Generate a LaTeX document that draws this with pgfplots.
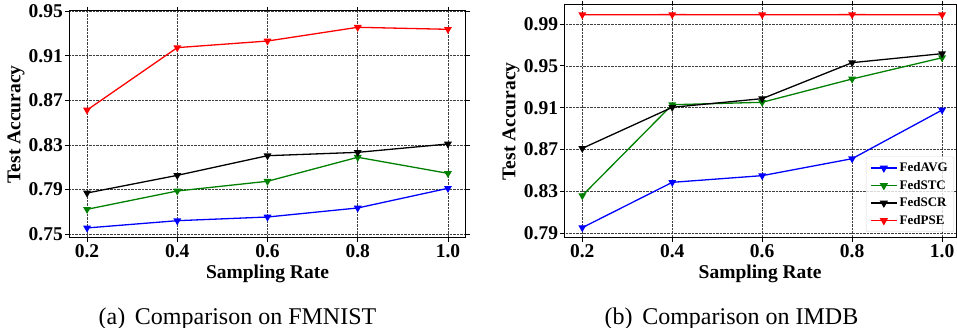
\documentclass[border=0pt]{standalone}
\usepackage{fontspec}
\setmainfont{Liberation Serif}
\usepackage{pgfplots}
\pgfplotsset{compat=1.18}
\definecolor{mgreen}{RGB}{0,128,0}
\pgfplotsset{
  myax/.style={
    scale only axis,
    xmin=0.16,
    xtick={0.2,0.4,0.6,0.8,1.0},
    scaled ticks=false,
    grid=major,
    grid style={densely dotted, black!75, line width=0.7pt},
    axis line style={line width=1pt},
    tick align=outside,
    major tick length=4pt,
    tick style={black, line width=0.8pt},
    ticklabel style={font=\fontsize{19.5}{20}\selectfont\bfseries, inner sep=2pt},
    xticklabel style={/pgf/number format/.cd, fixed, fixed zerofill, precision=1, assume math mode=true},
    yticklabel style={/pgf/number format/.cd, fixed, fixed zerofill, precision=2, assume math mode=true},
    label style={font=\fontsize{19.5}{20}\selectfont\bfseries},
    xlabel={Sampling Rate},
    ylabel={Test Accuracy},
    every axis plot/.append style={line width=1.3pt, mark=triangle*, mark size=3.3pt, mark options={rotate=180, solid}},
  },
}
\begin{document}
\begin{tikzpicture}
\path[use as bounding box] (0pt,0pt) rectangle (957pt,-328pt);
% (a) FMNIST
\begin{axis}[myax,
  at={(69pt,-238pt)}, anchor=south west,
  width=397pt, height=227pt,
  xmax=1.04, ymin=0.7467, ymax=0.95,
  ytick={0.75,0.79,0.83,0.87,0.91,0.95},
  xlabel style={at={(axis description cs:0.5,-0.1806)}, anchor=base},
  ylabel style={at={(axis description cs:-0.1335,0.5)}, anchor=center},
]
\addplot[blue] coordinates {(0.2,0.7557) (0.4,0.7622) (0.6,0.7655) (0.8,0.7736) (1.0,0.7912)};
\addplot[mgreen] coordinates {(0.2,0.7724) (0.4,0.7888) (0.6,0.7975) (0.8,0.8190) (1.0,0.8046)};
\addplot[black] coordinates {(0.2,0.7870) (0.4,0.8028) (0.6,0.8204) (0.8,0.8234) (1.0,0.8309)};
\addplot[red] coordinates {(0.2,0.8613) (0.4,0.9172) (0.6,0.9231) (0.8,0.9354) (1.0,0.9336)};
\end{axis}
% (b) IMDB
\begin{axis}[myax,
  at={(564.3pt,-238pt)}, anchor=south west,
  width=391.7pt, height=233.3pt,
  xmax=1.031, ymin=0.7855, ymax=1.0085,
  ytick={0.79,0.83,0.87,0.91,0.95,0.99},
  xlabel style={at={(axis description cs:0.5,-0.1757)}, anchor=base},
  ylabel style={at={(axis description cs:-0.136,0.5)}, anchor=center},
  legend style={at={(1,0)}, anchor=south east, xshift=-2pt, yshift=6pt,
    font=\fontsize{13}{14}\selectfont\bfseries, draw=black!15, rounded corners=2pt,
    fill=white, fill opacity=0.8, text opacity=1, inner sep=4pt, row sep=3pt,
    cells={anchor=west}},
  legend image code/.code={\draw[#1, line width=1.6pt, mark repeat=2, mark phase=2] plot coordinates {(0pt,0pt) (13pt,0pt) (26pt,0pt)};},
]
\addplot[blue] coordinates {(0.2,0.7954) (0.4,0.8387) (0.6,0.8451) (0.8,0.8613) (1.0,0.9078)};
\addplot[mgreen] coordinates {(0.2,0.8260) (0.4,0.9129) (0.6,0.9152) (0.8,0.9375) (1.0,0.9578)};
\addplot[black] coordinates {(0.2,0.8712) (0.4,0.9104) (0.6,0.9187) (0.8,0.9531) (1.0,0.9617)};
\addplot[red] coordinates {(0.2,0.9989) (0.4,0.9990) (0.6,0.9989) (0.8,0.9990) (1.0,0.9989)};
\legend{FedAVG, FedSTC, FedSCR, FedPSE}
\end{axis}
\node[anchor=base, font=\fontsize{24}{26}\selectfont] at (237.5pt,-324.3pt) {(a)\hspace{0.4em}Comparison on FMNIST};
\node[anchor=base, font=\fontsize{24}{26}\selectfont] at (731.5pt,-324.3pt) {(b)\hspace{0.4em}Comparison on IMDB};
\end{tikzpicture}
\end{document}
